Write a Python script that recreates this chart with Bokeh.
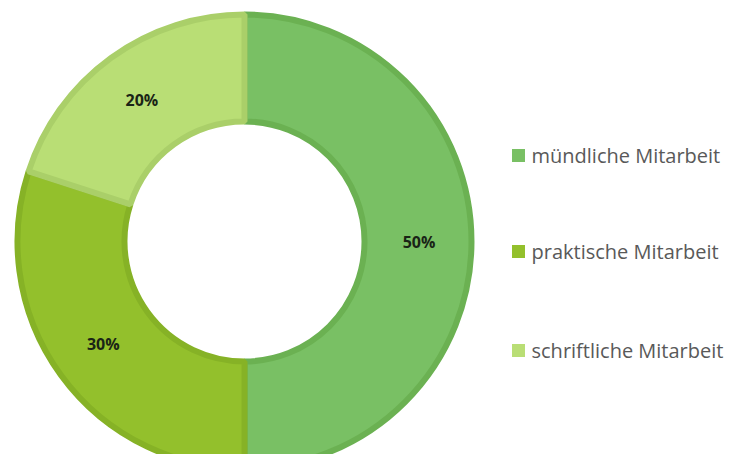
import math
from bokeh.plotting import figure
from bokeh.models import Range1d
from bokeh.core.properties import value
from bokeh.embed import file_html
from bokeh.resources import INLINE

categories = ["mündliche Mitarbeit", "praktische Mitarbeit", "schriftliche Mitarbeit"]
shares = [50, 30, 20]
labels = ["50%", "30%", "20%"]

fill_colors = ["#79C064", "#93C02C", "#B9DE75"]
edge_colors = ["#6BB152", "#86B226", "#AACF69"]

W, H = 728, 454
p = figure(width=W, height=H, output_backend="svg", toolbar_location=None,
           x_range=Range1d(0, W), y_range=Range1d(0, H), min_border=0)
p.axis.visible = False
p.grid.visible = False
p.outline_line_color = None

cx, cy = 244, H - 241
r_in, r_out = 120, 227

total = float(sum(shares))
start = math.pi / 2  # begin at top, go clockwise
for cat, s, lab, fc, ec in zip(categories, shares, labels, fill_colors, edge_colors):
    sweep = 2 * math.pi * s / total
    end = start - sweep
    p.annular_wedge(x=[cx], y=[cy], inner_radius=r_in, outer_radius=r_out,
                    start_angle=end, end_angle=start, direction="anticlock",
                    fill_color=fc, line_color=ec, line_width=6,
                    inner_radius_units="data", outer_radius_units="data")
    mid = (start + end) / 2
    rm = (r_in + r_out) / 2 + 1
    p.text(x=[cx + rm * math.cos(mid)], y=[cy + rm * math.sin(mid)], text=[lab],
           text_align="center", text_baseline="middle",
           text_font=value("Open Sans"), text_font_style="bold",
           text_font_size="16px", text_color="#1A2416")
    start = end

# legend
leg_x = 511
leg_y = [H - 155, H - 251, H - 350]
for cat, fc, ly in zip(categories, fill_colors, leg_y):
    p.rect(x=[leg_x + 7], y=[ly], width=13, height=13, fill_color=fc, line_color=None)
    p.text(x=[leg_x + 20], y=[ly], text=[cat], text_align="left", text_baseline="middle",
           text_font=value("Open Sans"), text_font_size="20px", text_color="#595959")

open("out.html", "w").write(file_html(p, INLINE))
